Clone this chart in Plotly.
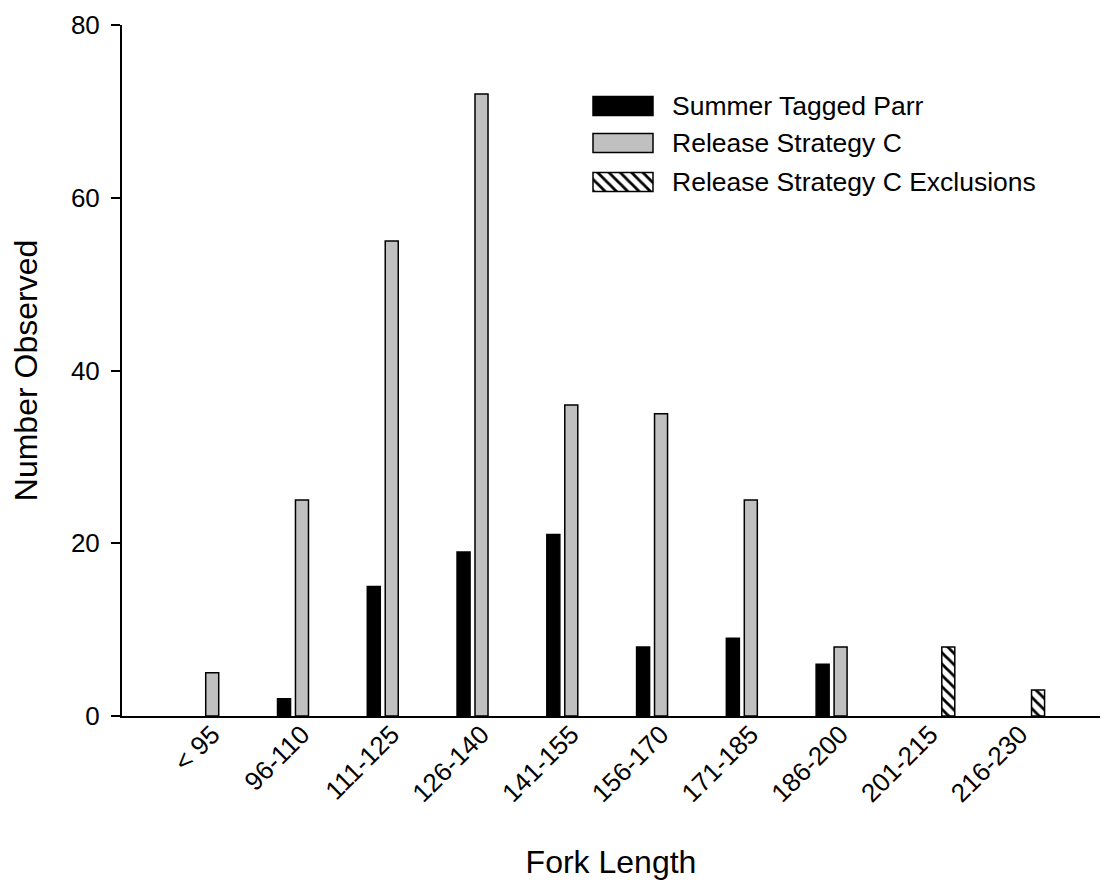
import plotly.graph_objects as go

categories = ["< 95", "96-110", "111-125", "126-140", "141-155",
              "156-170", "171-185", "186-200", "201-215", "216-230"]
summer_tagged_parr = [0, 2, 15, 19, 21, 8, 9, 6, 0, 0]
release_strategy_c = [5, 25, 55, 72, 36, 35, 25, 8, 0, 0]
release_strategy_c_excl = [0, 0, 0, 0, 0, 0, 0, 0, 8, 3]
y_ticks = [0, 20, 40, 60, 80]
legend_names = ["Summer Tagged Parr", "Release Strategy C", "Release Strategy C Exclusions"]

FONT = "Liberation Sans, Arial, sans-serif"
W = 0.145   # bar width in category units
SEP = 0.2   # centre-to-centre distance of bars inside a group

idx = list(range(len(categories)))

def nz(vals):
    # hide zero-height bars
    return [v if v != 0 else None for v in vals]

fig = go.Figure()
fig.add_trace(go.Bar(
    x=idx, y=nz(summer_tagged_parr), width=W, offset=-SEP - W / 2,
    marker=dict(color="black", line=dict(color="black", width=1.5)),
    name=legend_names[0], showlegend=False))
fig.add_trace(go.Bar(
    x=idx, y=nz(release_strategy_c), width=W, offset=-W / 2,
    marker=dict(color="#C0C0C0", line=dict(color="black", width=1.5)),
    name=legend_names[1], showlegend=False))
fig.add_trace(go.Bar(
    x=idx, y=nz(release_strategy_c_excl), width=W, offset=SEP - W / 2,
    marker=dict(color="white", line=dict(color="black", width=1.5),
                pattern=dict(shape="\\", fgcolor="black", bgcolor="white",
                             size=8, solidity=0.35, fillmode="replace")),
    name=legend_names[2], showlegend=False))

# ---- custom legend drawn on an overlay pixel-like axis ----
leg_rows = [106, 143, 182]
leg_styles = [
    dict(color="black", line=dict(color="black", width=1.5)),
    dict(color="#C0C0C0", line=dict(color="black", width=1.5)),
    dict(color="white", line=dict(color="black", width=1.5),
         pattern=dict(shape="\\", fgcolor="black", bgcolor="white",
                      size=8, solidity=0.35, fillmode="replace")),
]
for row, style, name in zip(leg_rows, leg_styles, legend_names):
    fig.add_trace(go.Bar(
        y=[row], x=[60], base=[593], orientation="h", width=19,
        marker=style, xaxis="x2", yaxis="y2", showlegend=False,
        hoverinfo="skip"))
    fig.add_annotation(x=670, y=row, xref="x2", yref="y2", text=name,
                       showarrow=False, xanchor="left", yanchor="middle",
                       font=dict(family=FONT, size=26.5, color="black"))

fig.update_layout(
    width=1108, height=884,
    margin=dict(l=122, r=8, t=25, b=168, autoexpand=False),
    paper_bgcolor="white", plot_bgcolor="white",
    barmode="overlay",
    font=dict(family=FONT, size=26, color="black"),
    xaxis=dict(
        range=[-1.005, 9.89], tickmode="array", tickvals=idx, ticktext=categories,
        tickangle=-45, showline=True, linecolor="black", linewidth=2,
        ticks="", showgrid=False, zeroline=False, automargin=False,
        ticklabelstandoff=-9,
        tickfont=dict(family=FONT, size=26),
        title=dict(text="Fork Length", font=dict(family=FONT, size=32), standoff=43),
    ),
    yaxis=dict(
        range=[0, 80], tickvals=y_ticks, showline=True, linecolor="black",
        linewidth=2, ticks="outside", ticklen=9, tickwidth=2, tickcolor="black",
        showgrid=False, zeroline=False, automargin=False, ticklabelstandoff=6,
        tickfont=dict(family=FONT, size=26),
        title=dict(text="Number Observed", font=dict(family=FONT, size=32), standoff=24),
    ),
    xaxis2=dict(overlaying="x", range=[122, 1100], visible=False, fixedrange=True),
    yaxis2=dict(overlaying="y", range=[716, 25], visible=False, fixedrange=True),
)

fig.write_html(
    "out.html",
    config={"displayModeBar": False},
    post_script="document.body.style.margin='0';document.body.style.overflow='hidden';",
)
